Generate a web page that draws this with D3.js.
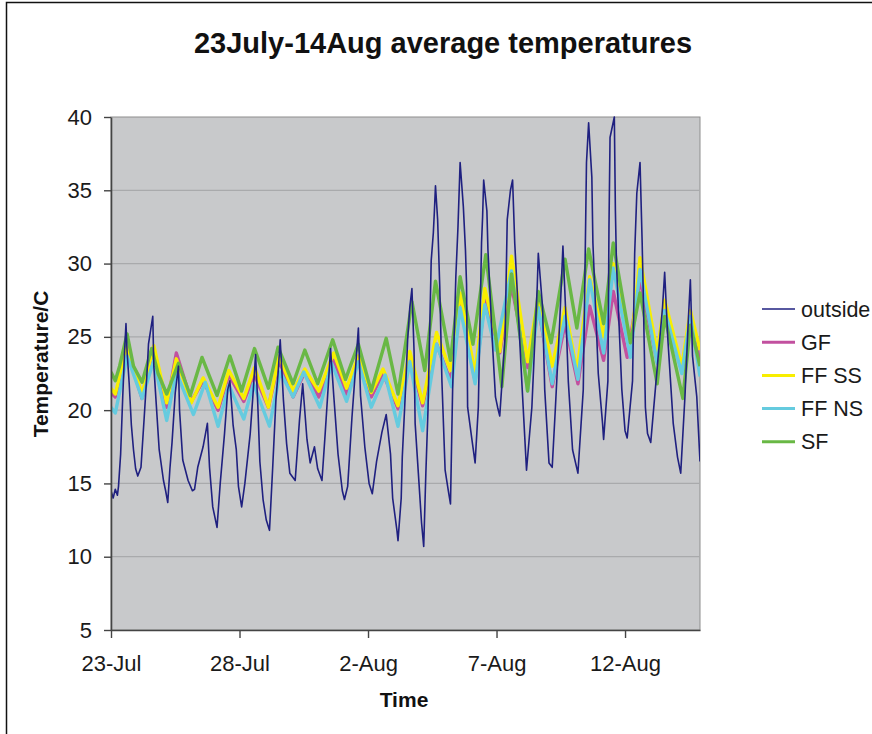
<!DOCTYPE html>
<html>
<head>
<meta charset="utf-8">
<script src="https://cdn.jsdelivr.net/npm/d3@7"></script>
<style>
  html, body { margin: 0; padding: 0; background: #ffffff; }
  svg { display: block; font-family: "Liberation Sans", Arial, sans-serif; }
</style>
</head>
<body>
<svg id="chart" width="872" height="734"></svg>
<script>
// Readings as [hours since 23 Jul 00:00, temperature °C]
const outside = [
  [0,14.5],[2,14.0],[4,14.6],[6,14.2],[7,14.8],[9,17.0],[11,21.0],[13,24.5],[14,25.9],[15,24.0],[17,21.8],[19,19.0],[21,17.3],[23,16.0],[25,15.5],[28,16.1],
  [31,19.5],[34,23.0],[35,24.5],[39,26.4],[40,23.0],[42,20.7],[45,17.3],[49,15.2],[51,14.5],[53,13.7],
  [55,16.0],[57,17.8],[60,21.2],[63,23.0],[64,20.0],[67,16.6],[72,15.2],[76,14.5],[78,14.6],[81,16.1],[86,17.5],[90,19.1],
  [92,16.1],[95,13.4],[99,12.0],[102,15.0],[106,18.4],[109,21.4],[111,22.0],[114,19.0],[117,17.3],[119,14.8],[122,13.4],[125,15.0],
  [130,18.4],[133,21.5],[135,23.8],[137,20.5],[139,16.5],[142,13.9],[145,12.5],[148,11.8],
  [151,16.1],[154,20.7],[156,22.5],[158,24.8],[161,20.7],[164,17.7],[167,15.7],[172,15.2],
  [176,19.3],[179,21.8],[183,18.0],[186,16.4],[190,17.5],[193,16.0],[197,15.2],
  [200,18.4],[203,21.8],[205,24.2],[208,21.0],[212,17.0],[216,14.5],[218,13.9],[221,14.8],
  [225,19.5],[228,22.5],[231,25.6],[233,21.0],[237,17.5],[241,15.0],[244,14.3],
  [248,16.5],[253,18.5],[257,19.7],[261,17.0],[263,14.0],[267,11.8],[268,11.1],[271,14.0],[272,16.8],
  [275,21.4],[277,24.8],[279,27.0],[281,28.3],[283,24.0],[284,19.1],[287,15.7],[290,12.3],[292,10.7],
  [294,15.7],[296,20.0],[299,30.2],[301,32.1],[302,33.6],[303,35.3],[305,33.0],[307,28.4],[309,22.0],[312,15.9],[315,14.5],[317,13.6],
  [319,21.4],[322,29.1],[324,32.5],[326,36.9],[329,33.9],[331,30.9],[332,28.6],[333,20.2],[337,18.0],[340,16.4],
  [343,20.2],[346,31.4],[347,33.2],[348,35.7],[351,33.6],[352,30.9],[356,24.8],[359,20.9],[361,20.2],[363,19.6],
  [368,25.0],[370,33.0],[373,35.0],[375,35.7],[377,31.4],[379,28.6],[384,21.4],[388,15.9],
  [393,20.2],[398,28.4],[399,30.7],[403,27.0],[405,21.4],[409,16.4],
  [412,16.1],[415,20.2],[419,26.0],[422,31.2],[425,26.0],[427,22.0],[431,17.3],[436,15.7],
  [441,21.4],[443,31.6],[444,36.9],[446,39.6],[449,35.9],[450,31.4],[455,22.5],[459,19.1],[460,18.0],
  [464,22.0],[465,32.5],[466,38.6],[470,40.0],[471,33.6],[472,30.0],[477,21.4],[480,18.6],[482,18.1],
  [487,22.0],[489,30.7],[491,34.8],[494,36.9],[496,31.4],[497,28.0],[499,20.2],[501,18.4],[504,17.8],
  [511,23.7],[515,27.0],[517,29.4],[520,24.8],[525,19.1],[529,16.8],[532,15.7],
  [536,21.0],[539,26.0],[541,28.9],[543,23.7],[547,20.9],[550,16.5]
];

const gf = [
  [0,21.2],[4,20.9],[15,24.1],[29,20.8],[40,24.0],[52,20.2],[61,23.9],[75,20.6],[86,22.0],[100,20.0],
  [110,22.4],[124,20.6],[134,22.4],[147,20.2],[157,23.4],[170,20.9],[181,22.6],[194,20.9],[208,23.4],[220,21.1],
  [231,23.4],[243,20.9],[254,22.5],[268,20.1],[279,23.6],[291,20.3],[304,24.5],[317,22.0],[326,27.4],[340,22.0],
  [349,27.5],[363,23.9],[374,28.5],[389,22.9],[399,27.0],[412,21.6],[424,25.9],[436,21.8],[447,27.1],[460,23.4],
  [469,28.1],[482,23.6],[494,28.9],[510,23.3],[517,26.6],[533,22.7],[541,26.4],[550,23.2]
];

const ffSS = [
  [0,21.5],[4,21.1],[15,24.3],[29,21.1],[40,24.4],[52,20.5],[61,23.5],[75,20.5],[86,22.2],[100,20.2],
  [110,22.7],[124,20.8],[134,22.9],[147,20.2],[157,23.7],[170,21.3],[181,22.8],[194,21.3],[208,23.9],[220,21.5],
  [231,23.7],[243,21.2],[254,22.8],[268,20.3],[279,24.0],[291,20.5],[304,25.3],[317,22.7],[326,28.0],[340,22.5],
  [349,28.3],[363,24.0],[374,30.5],[389,23.3],[399,27.7],[412,23.0],[424,27.0],[435,22.7],[447,29.1],[460,25.0],
  [469,30.0],[485,24.1],[494,30.4],[510,23.9],[517,27.5],[533,23.0],[541,26.8],[550,24.1]
];

const ffNS = [
  [0,20.2],[4,19.8],[15,23.7],[29,20.8],[40,23.4],[52,19.3],[61,22.6],[77,19.7],[88,21.9],[100,18.9],
  [110,21.7],[124,19.4],[133,21.8],[148,18.9],[158,22.6],[170,20.9],[180,22.6],[195,20.2],[206,23.2],[220,20.6],
  [231,23.3],[243,20.2],[256,22.4],[268,18.9],[279,23.3],[291,18.6],[304,24.5],[318,21.6],[326,27.0],[340,21.8],
  [349,27.2],[359,24.1],[374,29.5],[389,21.3],[399,27.0],[412,21.8],[424,26.4],[436,22.1],[447,28.9],[460,23.9],
  [469,29.7],[485,23.6],[494,29.6],[510,23.2],[517,26.8],[533,22.5],[541,26.4],[550,22.3]
];

const sf = [
  [0,22.6],[4,22.0],[8,23.0],[15,25.2],[21,23.0],[29,21.9],[38,24.2],[44,22.5],[52,21.1],[63,23.2],
  [74,21.0],[85,23.6],[99,21.0],[111,23.7],[122,21.3],[134,24.2],[147,21.5],[156,24.3],[170,21.8],[181,24.1],
  [193,21.8],[207,24.8],[219,22.1],[231,24.5],[243,21.3],[257,24.9],[268,21.1],[281,27.4],[293,22.7],[303,28.8],
  [317,23.4],[326,29.1],[338,24.5],[350,30.6],[365,21.6],[374,29.3],[389,21.3],[399,28.1],[411,24.6],[424,30.3],
  [435,25.6],[446,31.0],[460,25.9],[469,31.4],[485,24.6],[494,28.0],[510,21.8],[517,26.4],[534,20.8],[541,25.8],[550,23.0]
];

const seriesNames = ["outside", "GF", "FF SS", "FF NS", "SF"];
const seriesColors = ["#1f2080", "#c2509f", "#f8ee00", "#65cbdf", "#69b845"];
const seriesWidths = [1.6, 3.4, 3.4, 3.4, 3.4];
const seriesData = [outside, gf, ffSS, ffNS, sf];

const yTicks = [5, 10, 15, 20, 25, 30, 35, 40];
const xTickHours = [0, 120, 240, 360, 480];
const xTickLabels = ["23-Jul", "28-Jul", "2-Aug", "7-Aug", "12-Aug"];
const xDomainHours = [0, 550];

const svg = d3.select("#chart");
const plot = { left: 111, top: 117, right: 700, bottom: 630 };

const x = d3.scaleLinear().domain(xDomainHours).range([plot.left, plot.right]);
const y = d3.scaleLinear().domain([5, 40]).range([plot.bottom, plot.top]);

// chart frame
svg.append("rect")
  .attr("x", 6.5).attr("y", 2.5)
  .attr("width", 1000).attr("height", 1000)
  .attr("fill", "none").attr("stroke", "#111").attr("stroke-width", 1.5);

// title
svg.append("text")
  .attr("x", 443).attr("y", 53)
  .attr("text-anchor", "middle")
  .attr("font-size", 29).attr("font-weight", "bold").attr("fill", "#111")
  .text("23July-14Aug average temperatures");

// plot area
svg.append("rect")
  .attr("x", plot.left).attr("y", plot.top)
  .attr("width", plot.right - plot.left).attr("height", plot.bottom - plot.top)
  .attr("fill", "#c8c9cb").attr("stroke", "#8e8e8e").attr("stroke-width", 1);

// horizontal gridlines
svg.append("g")
  .selectAll("line")
  .data(yTicks.filter(t => t > 5 && t < 40))
  .join("line")
  .attr("x1", plot.left).attr("x2", plot.right)
  .attr("y1", d => y(d)).attr("y2", d => y(d))
  .attr("stroke", "#a9aaac").attr("stroke-width", 1.2);

// series lines, outside drawn last
svg.append("clipPath").attr("id", "plotClip")
  .append("rect")
  .attr("x", plot.left).attr("y", plot.top - 2)
  .attr("width", plot.right - plot.left).attr("height", plot.bottom - plot.top + 2);

const line = d3.line().x(d => x(d[0])).y(d => y(d[1]));
const drawOrder = [1, 2, 3, 4, 0];
const lines = svg.append("g").attr("clip-path", "url(#plotClip)");
drawOrder.forEach(i => {
  lines.append("path")
    .datum(seriesData[i])
    .attr("d", line)
    .attr("fill", "none")
    .attr("stroke", seriesColors[i])
    .attr("stroke-width", seriesWidths[i])
    .attr("stroke-linejoin", "round");
});

// axes
const yAxis = svg.append("g")
  .attr("transform", `translate(${plot.left},0)`)
  .call(d3.axisLeft(y).tickValues(yTicks).tickSize(7).tickSizeOuter(0).tickPadding(12));
const xAxis = svg.append("g")
  .attr("transform", `translate(0,${plot.bottom})`)
  .call(d3.axisBottom(x).tickValues(xTickHours)
    .tickFormat((d, i) => xTickLabels[i]).tickSize(8).tickSizeOuter(0));

[yAxis, xAxis].forEach(g => {
  g.select(".domain").attr("stroke", "#444").attr("stroke-width", 1.6);
  g.selectAll(".tick line").attr("stroke", "#444").attr("stroke-width", 1.4);
  g.selectAll("text")
    .attr("font-family", "\"Liberation Sans\", Arial, sans-serif")
    .attr("font-size", 22).attr("fill", "#1a1a1a");
});
xAxis.selectAll("text").attr("y", 41).attr("dy", 0);

// axis titles
svg.append("text")
  .attr("transform", "translate(48,364) rotate(-90)")
  .attr("text-anchor", "middle")
  .attr("font-size", 21).attr("font-weight", "bold").attr("fill", "#111")
  .text("Temperature/C");

svg.append("text")
  .attr("x", 404).attr("y", 707)
  .attr("text-anchor", "middle")
  .attr("font-size", 21).attr("font-weight", "bold").attr("fill", "#111")
  .text("Time");

// legend
const legend = svg.append("g");
seriesNames.forEach((name, i) => {
  const ly = 309 + i * 33.2;
  legend.append("line")
    .attr("x1", 762).attr("x2", 795)
    .attr("y1", ly).attr("y2", ly)
    .attr("stroke", seriesColors[i])
    .attr("stroke-width", i === 0 ? 1.6 : 3);
  legend.append("text")
    .attr("x", 801).attr("y", ly + 7.5)
    .attr("font-size", 21.5).attr("fill", "#1a1a1a")
    .text(name);
});
</script>
</body>
</html>
